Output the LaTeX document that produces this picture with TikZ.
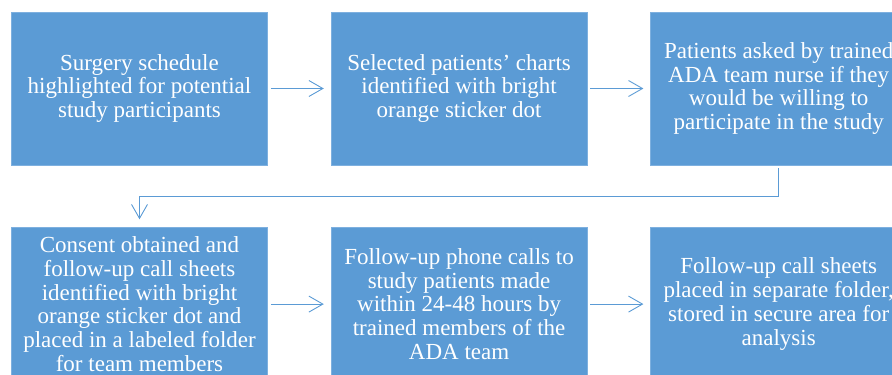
\documentclass[tikz,border=0pt]{standalone}
\usepackage{fontspec}
\setmainfont{Liberation Serif}
\usepackage{xcolor}
\usetikzlibrary{arrows.meta,positioning}

\definecolor{boxblue}{HTML}{5B9BD5}
\definecolor{edgeblue}{HTML}{7EB0DF}

\begin{document}
\begin{tikzpicture}[
    x=1pt, y=-1pt,
    node distance=62pt and 63pt,
    box/.style={rectangle, fill=boxblue, draw=edgeblue, line width=0.6pt, minimum width=256pt, minimum height=153pt, align=center, text=white, font=\rmfamily\fontsize{23}{23.8}\selectfont},
    arr/.style={-{Straight Barb[length=14pt,width=16pt]}, draw=boxblue, line width=0.9pt}
]

% Page frame
\useasboundingbox (0,0) rectangle (892,375);
\clip (0,0) rectangle (892,375);

% Top row
\node[box] (b1) at (139.5,88.5) {Surgery schedule\\highlighted for potential\\study participants};
\node[box, right=of b1] (b2) {Selected patients' charts\\identified with bright\\orange sticker dot};
\node[box, right=of b2] (b3) {Patients asked by trained\\ADA team nurse if they\\would be willing to\\participate in the study};

% Bottom row
\node[box, below=of b1] (b4) {Consent obtained and\\follow-up call sheets\\identified with bright\\orange sticker dot and\\placed in a labeled folder\\for team members};
\node[box, right=of b4] (b5) {Follow-up phone calls to\\study patients made\\within 24-48 hours by\\trained members of the\\ADA team};
\node[box, right=of b5] (b6) {Follow-up call sheets\\placed in separate folder,\\stored in secure area for\\analysis};

% Arrows
\draw[arr] ([xshift=3pt]b1.east) -- ([xshift=-7pt]b2.west);
\draw[arr] ([xshift=3pt]b2.east) -- ([xshift=-7pt]b3.west);
\draw[arr] ([yshift=-3pt]b3.south) -- ++(0,28) -| ([yshift=8pt]b4.north);
\draw[arr] ([xshift=3pt]b4.east) -- ([xshift=-7pt]b5.west);
\draw[arr] ([xshift=3pt]b5.east) -- ([xshift=-7pt]b6.west);

\end{tikzpicture}
\end{document}
